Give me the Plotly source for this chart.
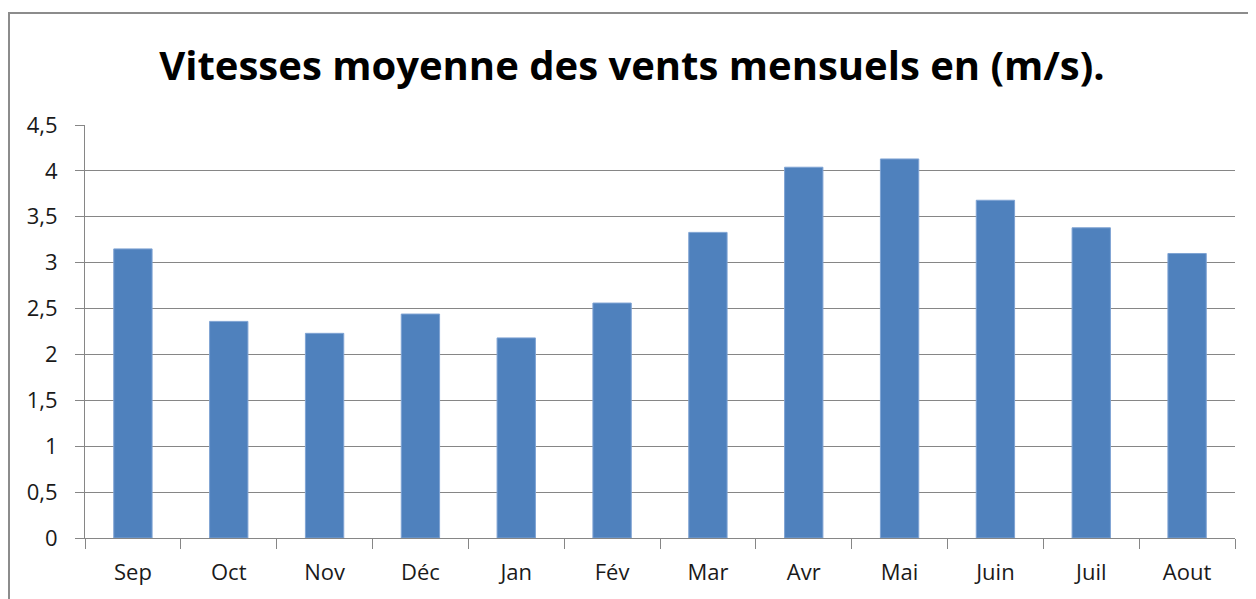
import plotly.graph_objects as go

months = ["Sep", "Oct", "Nov", "Déc", "Jan", "Fév", "Mar", "Avr", "Mai", "Juin", "Juil", "Aout"]
vitesse = [3.15, 2.36, 2.23, 2.44, 2.18, 2.56, 3.33, 4.04, 4.13, 3.68, 3.38, 3.10]
ytick_vals = [0, 0.5, 1, 1.5, 2, 2.5, 3, 3.5, 4, 4.5]
ytick_text = ["0", "0,5", "1", "1,5", "2", "2,5", "3", "3,5", "4", "4,5"]
title = "Vitesses moyenne des vents mensuels en (m/s)."

# page has an 8px body margin; figure sized/positioned to compensate
OFF = 8
W, H = 1256 - OFF, 599 - OFF
L, R, T, B = 85 - OFF, 21, 125 - OFF, 61
pw, ph = W - L - R, H - T - B

def px_x(x):  # page pixel -> paper
    return (x - OFF - L) / pw

def px_y(y):
    return (H - B - (y - OFF)) / ph

font = "'Open Sans', sans-serif"

fig = go.Figure(go.Bar(
    x=months, y=vitesse,
    marker=dict(color="#4F81BD", line=dict(color="#7FA3D3", width=1)),
))

fig.update_layout(
    width=W, height=H,
    margin=dict(l=L, r=R, t=T, b=B),
    paper_bgcolor="white", plot_bgcolor="white",
    bargap=0.6,
    showlegend=False,
    title=dict(text="<b>" + title + "</b>", x=0.5, xanchor="center",
               y=1 - (66 - OFF) / H, yanchor="middle",
               font=dict(family=font, size=40, color="black")),
    font=dict(family=font, size=22, color="#1a1a1a"),
    shapes=[dict(type="rect", xref="paper", yref="paper",
                 x0=px_x(9), x1=px_x(1254), y0=px_y(640), y1=px_y(13),
                 line=dict(color="#8C8C8C", width=2), layer="below")],
)
fig.update_xaxes(
    showline=True, linecolor="#868686", linewidth=1,
    ticks="outside", tickson="boundaries", ticklen=10, tickcolor="#868686",
    showgrid=False, ticklabelstandoff=15,
)
fig.update_yaxes(
    range=[0, 4.5], tickvals=ytick_vals, ticktext=ytick_text,
    showline=True, linecolor="#868686", linewidth=1,
    ticks="outside", ticklen=9, tickcolor="#868686",
    showgrid=True, gridcolor="#868686", gridwidth=1,
    zeroline=False, ticklabelstandoff=13,
)
fig.write_html("out.html")
